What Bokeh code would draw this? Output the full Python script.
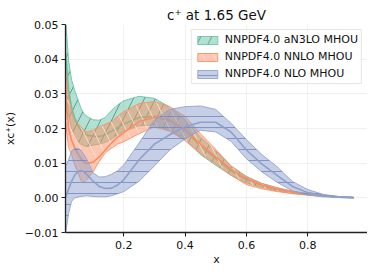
import numpy as np
from bokeh.plotting import figure
from bokeh.models import Range1d, FixedTicker, CustomJSTickFormatter, Legend, LegendItem
from bokeh.embed import file_html
from bokeh.resources import INLINE

# ---- data ----
x = [0.01, 0.02, 0.03, 0.04, 0.05, 0.06, 0.07, 0.08, 0.10, 0.12, 0.14, 0.16, 0.18, 0.20,
     0.25, 0.30, 0.35, 0.40, 0.45, 0.50, 0.55, 0.60, 0.65, 0.70, 0.75, 0.80, 0.85, 0.90, 0.95]

an3lo_mid = [0.042, 0.031, 0.026, 0.023, 0.021, 0.0195, 0.0186, 0.0181, 0.0178, 0.0177, 0.0182, 0.0192,
             0.0203, 0.0213, 0.0232, 0.0235, 0.0222, 0.0195, 0.0150, 0.0113, 0.0078, 0.0052, 0.0036,
             0.0024, 0.0016, 0.0010, 0.0006, 0.0003, 0.0001]
an3lo_hi = [0.052, 0.0396, 0.034, 0.031, 0.0285, 0.026, 0.0243, 0.0235, 0.0225, 0.0224, 0.0232, 0.0252,
            0.0268, 0.0280, 0.0293, 0.0287, 0.0262, 0.0225, 0.0175, 0.0135, 0.0092, 0.0062, 0.0042,
            0.0029, 0.0019, 0.0012, 0.0007, 0.0003, 0.0001]
an3lo_lo = [0.032, 0.024, 0.020, 0.0175, 0.0162, 0.0155, 0.0150, 0.0148, 0.0152, 0.0155, 0.0160, 0.0170,
            0.0182, 0.0192, 0.0208, 0.0210, 0.0195, 0.0168, 0.0125, 0.0094, 0.0065, 0.0043, 0.0030,
            0.0020, 0.0013, 0.0008, 0.0005, 0.0002, 0.0001]

nnlo_mid = [0.030, 0.020, 0.0165, 0.0145, 0.0128, 0.0113, 0.0104, 0.0099, 0.0103, 0.0118, 0.0138, 0.0158,
            0.0175, 0.0188, 0.0220, 0.0232, 0.0225, 0.0198, 0.0155, 0.0118, 0.0082, 0.0055, 0.0037,
            0.0025, 0.0017, 0.0011, 0.0006, 0.0003, 0.0001]
nnlo_hi = [0.037, 0.029, 0.025, 0.022, 0.0215, 0.0205, 0.0195, 0.0190, 0.0195, 0.0205, 0.0212, 0.0220,
           0.0235, 0.0248, 0.0272, 0.0278, 0.0263, 0.0235, 0.0185, 0.0140, 0.0092, 0.0060, 0.0041,
           0.0029, 0.0019, 0.0012, 0.0007, 0.0003, 0.0001]
nnlo_lo = [0.022, 0.0145, 0.0125, 0.0095, 0.0075, 0.0050, 0.0045, 0.0052, 0.0075, 0.0105, 0.0130, 0.0143,
           0.0155, 0.0162, 0.0185, 0.0205, 0.0192, 0.0165, 0.0128, 0.0098, 0.0065, 0.0038, 0.0026,
           0.0018, 0.0012, 0.0008, 0.0004, 0.0002, 0.0001]

nlo_mid = [0.0, 0.0025, 0.0048, 0.0065, 0.0075, 0.0079, 0.0075, 0.0067, 0.0048, 0.0033, 0.0027, 0.0028,
           0.0037, 0.0052, 0.0110, 0.0155, 0.0182, 0.0205, 0.0218, 0.0218, 0.0190, 0.0138, 0.0098,
           0.0065, 0.0033, 0.0015, 0.0007, 0.0002, 0.0]
nlo_hi = [0.009, 0.011, 0.0135, 0.0142, 0.0142, 0.0138, 0.0125, 0.0110, 0.0072, 0.0060, 0.0061, 0.0068,
          0.0078, 0.0095, 0.0158, 0.0225, 0.0255, 0.0263, 0.0265, 0.0255, 0.0215, 0.0168, 0.0125,
          0.0090, 0.0047, 0.0024, 0.0010, 0.0004, 0.0001]
nlo_lo = [-0.0105, -0.0045, -0.0010, 0.0, 0.0002, 0.0004, 0.0005, 0.0006, 0.0004, 0.0003, 0.0003, 0.0006,
          0.0012, 0.0018, 0.0048, 0.0092, 0.0138, 0.0170, 0.0195, 0.0190, 0.0163, 0.0113, 0.0075,
          0.0045, 0.0020, 0.0008, 0.0003, 0.0001, 0.0]

labels = ["NNPDF4.0 aN3LO MHOU", "NNPDF4.0 NNLO MHOU", "NNPDF4.0 NLO MHOU"]
x_ticks = [0.2, 0.4, 0.6, 0.8]
y_ticks = [-0.01, 0.0, 0.01, 0.02, 0.03, 0.04, 0.05]

FONT = "DejaVu Sans"

p = figure(width=367, height=268, output_backend="svg", toolbar_location=None,
           x_range=Range1d(0.01, 0.995), y_range=Range1d(-0.01, 0.05),
           title="c\u207a at 1.65 GeV")
p.min_border_left = 63
p.min_border_right = 0
p.min_border_top = 24
p.min_border_bottom = 34
p.outline_line_color = None
p.background_fill_color = "white"

p.title.align = "center"
p.title.text_font = FONT
p.title.text_font_size = "13.5px"
p.title.text_font_style = "normal"
p.title.text_color = "#111111"
p.title.offset = 0
p.title.standoff = 4

for ax in (p.xaxis[0], p.yaxis[0]):
    ax.major_label_text_font = FONT
    ax.major_label_text_font_size = "11px"
    ax.major_label_text_color = "#111111"
    ax.axis_label_text_font = FONT
    ax.axis_label_text_font_size = "11px"
    ax.axis_label_text_font_style = "normal"
    ax.axis_label_text_color = "#111111"
    ax.axis_line_color = "#222222"
    ax.axis_line_width = 1.3
    ax.major_tick_line_color = "#222222"
    ax.major_tick_line_width = 1.1
    ax.major_tick_out = 4
    ax.major_tick_in = 0
    ax.minor_tick_line_color = None

p.xaxis.ticker = FixedTicker(ticks=x_ticks)
p.yaxis.ticker = FixedTicker(ticks=y_ticks)
p.xaxis.formatter = CustomJSTickFormatter(code="return tick.toFixed(1);")
p.yaxis.formatter = CustomJSTickFormatter(
    code="if (Math.abs(tick) < 1e-9) { return '0.00'; } return (tick < 0 ? '\u2212' : '') + Math.abs(tick).toFixed(2);")
p.xaxis.axis_label = "x"
p.yaxis.axis_label = "xc\u207a(x)"
p.xaxis.axis_label_standoff = 1
p.yaxis.axis_label_standoff = 5
p.xaxis.major_label_standoff = 4
p.yaxis.major_label_standoff = 3

p.xgrid.grid_line_color = "#ececec"
p.ygrid.grid_line_color = "#ececec"
p.xgrid.grid_line_width = 0.8
p.ygrid.grid_line_width = 0.8

series = [
    (an3lo_lo, an3lo_mid, an3lo_hi, "#66c2a5", "#4d8c78", "/", 22),
    (nnlo_lo, nnlo_mid, nnlo_hi, "#fc8d62", "#ffe3d6", "\\", 22),
    (nlo_lo, nlo_mid, nlo_hi, "#8da0cb", "#7287bf", "-", 11),
]

xa = np.array(x)
items = []
for (lo, mid, hi, col, hcol, hpat, hscale), lab in zip(series, labels):
    xs = np.concatenate([xa, xa[::-1]])
    ys = np.concatenate([np.array(hi), np.array(lo)[::-1]])
    r = p.patch(xs, ys, fill_color=col, fill_alpha=0.5,
                line_color=col, line_alpha=0.85, line_width=1.0,
                hatch_pattern=hpat, hatch_color=hcol, hatch_alpha=0.9,
                hatch_scale=hscale, hatch_weight=0.9)
    p.line(xa, mid, line_color=col, line_width=1.6)
    items.append(LegendItem(label=lab, renderers=[r]))

legend = Legend(items=items, location="top_right")
legend.label_text_font = FONT
legend.label_text_font_size = "11px"
legend.label_text_color = "#111111"
legend.glyph_width = 25
legend.glyph_height = 10
legend.label_height = 13
legend.spacing = 4
legend.padding = 3
legend.margin = 5
legend.border_line_color = "#cccccc"
legend.border_line_width = 1
legend.background_fill_alpha = 0.85
legend.label_standoff = 5
p.add_layout(legend)

open("out.html", "w").write(file_html(p, INLINE))
